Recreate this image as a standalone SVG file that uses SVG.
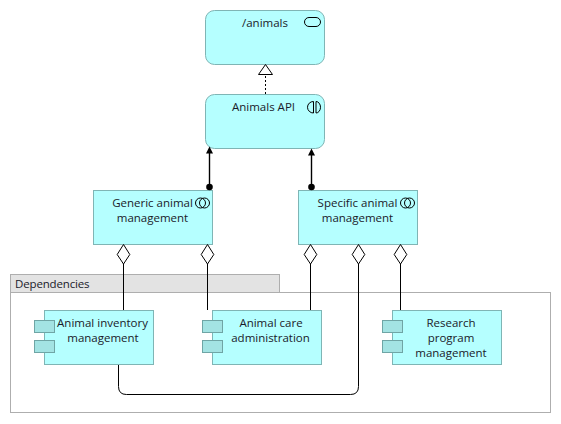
<svg xmlns="http://www.w3.org/2000/svg" width="561" height="424" viewBox="0 0 561 424">
<style>
text{font-family:"Open Sans","Noto Sans","Liberation Sans",sans-serif;font-size:11.5px;fill:#1a1a2a;text-anchor:middle}
.n{fill:#b5ffff;stroke:#7fb5b5;stroke-width:1}
.t{fill:#a3e3e3;stroke:#6fa5a5;stroke-width:1}
.g{fill:none;stroke:#aeaeae;stroke-width:1}
.c{fill:none;stroke:#000;stroke-width:1}
.a{fill:none;stroke:#000;stroke-width:1.4}
.d{fill:#fff;stroke:#000;stroke-width:1}
.i{fill:none;stroke:#000;stroke-width:1}
</style>
<g id="group-dependencies">
<rect x="10.5" y="274.5" width="269" height="18" fill="#e3e3e3" stroke="#aeaeae"/>
<rect class="g" x="10.5" y="292.5" width="540" height="120"/>
<text x="15" y="288" style="text-anchor:start;letter-spacing:-0.15px">Dependencies</text>
</g>
<g id="node-animals">
<rect class="n" x="205.5" y="10.5" width="119" height="54" rx="9"/>
<text x="265" y="27">/animals</text>
<rect class="i" x="304.5" y="17.5" width="16" height="9" rx="4.500"/>
</g>
<g id="node-animals-api">
<rect class="n" x="205.5" y="94.5" width="119" height="54" rx="9"/>
<text x="263.500" y="111">Animals API</text>
<path class="i" d="M313.500 101.500a6 5.750 0 0 0 0 11.500zM316 101.500a4.500 5.750 0 0 1 0 11.500z"/>
</g>
<g id="node-generic">
<rect class="n" x="93.5" y="190.5" width="119" height="54"/>
<text x="152.500" y="207">Generic animal</text>
<text x="152.500" y="222">management</text>
<circle class="i" cx="200.500" cy="203" r="5"/><circle class="i" cx="204.500" cy="203" r="5"/>
</g>
<g id="node-specific">
<rect class="n" x="298.5" y="190.5" width="119" height="54"/>
<text x="357.500" y="207">Specific animal</text>
<text x="357.500" y="222">management</text>
<circle class="i" cx="405.500" cy="203" r="5"/><circle class="i" cx="409.500" cy="203" r="5"/>
</g>
<g id="node-inventory">
<rect class="n" x="44.5" y="310.5" width="109" height="54"/>
<rect class="t" x="34.5" y="320.5" width="20" height="12"/><rect class="t" x="34.5" y="340.5" width="20" height="12"/>
<text x="102.500" y="327">Animal inventory</text>
<text x="103" y="342">management</text>
</g>
<g id="node-care">
<rect class="n" x="212.500" y="310.5" width="109" height="54"/>
<rect class="t" x="202.5" y="320.5" width="20" height="12"/><rect class="t" x="202.5" y="340.5" width="20" height="12"/>
<text x="271" y="327">Animal care</text>
<text x="270.500" y="342">administration</text>
</g>
<g id="node-research">
<rect class="n" x="392.500" y="310.5" width="109" height="54"/>
<rect class="t" x="382.5" y="320.5" width="20" height="12"/><rect class="t" x="382.5" y="340.5" width="20" height="12"/>
<text x="451" y="327">Research</text>
<text x="451" y="342">program</text>
<text x="451" y="357">management</text>
</g>
<g id="connectors">
<path d="M265.500 94V74" fill="none" stroke="#000" stroke-dasharray="2 2"/>
<path class="d" d="M265.500 64.500L272.500 74.500H258.500Z"/>
<path class="a" d="M209.500 187V153"/><path d="M209.500 146.500L213 153.500H206Z"/><circle cx="209.500" cy="187" r="3.300"/>
<path class="a" d="M311.500 187V155"/><path d="M311.500 148.500L315 155.500H308Z"/><circle cx="311.500" cy="187" r="3.300"/>
<path class="c" d="M123.500 264V310"/><path class="d" d="M123.500 244.500L129.800 254.500L123.500 264L117.200 254.500Z"/>
<path class="c" d="M207.500 264V310"/><path class="d" d="M207.500 244.500L213.800 254.500L207.500 264L201.200 254.500Z"/>
<path class="c" d="M310.500 264V310"/><path class="d" d="M310.500 244.500L316.800 254.500L310.500 264L304.200 254.500Z"/>
<path class="c" d="M400.500 264V310"/><path class="d" d="M400.500 244.500L406.800 254.500L400.500 264L394.200 254.500Z"/>
<path class="c" d="M118.500 365V386.500Q118.500 394.500 126.500 394.500H350.500Q358.500 394.500 358.500 386.500V264"/><path class="d" d="M358.500 244.500L364.800 254.500L358.500 264L352.200 254.500Z"/>
</g>
</svg>
